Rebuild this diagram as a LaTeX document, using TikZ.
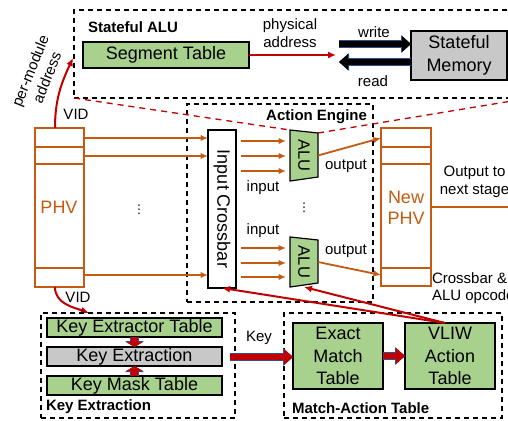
\documentclass[tikz,border=0pt]{standalone}
\usepackage{fontspec}
\setmainfont{Liberation Sans}
\newfontfamily\dejavu{DejaVu Sans}
\usetikzlibrary{arrows.meta,backgrounds,calc}
\definecolor{boxgreen}{HTML}{A9D18E}
\definecolor{boxgray}{HTML}{C8C8C8}
\definecolor{phvorange}{HTML}{C55A11}
\definecolor{arrred}{HTML}{C00000}
\definecolor{arrblue}{HTML}{2F528F}
\begin{document}
\begin{tikzpicture}[x=1pt,y=-1pt,
  every node/.style={inner sep=0pt, outer sep=0pt},
  big/.style={font=\fontsize{18}{22}\selectfont},
  mid/.style={font=\fontsize{15}{18}\selectfont},
  ttl/.style={font=\fontsize{15}{18}\selectfont\bfseries},
  vdotsnode/.style={font=\dejavu\fontsize{12}{12}\selectfont},
  dashbox/.style={draw, dash pattern=on 5pt off 4pt, line width=1.3pt},
  greenbox/.style={draw, fill=boxgreen, line width=1.2pt, big, align=center},
  graybox/.style={draw, fill=boxgray, line width=1.2pt, big, align=center},
  phvbox/.style={draw=phvorange, line width=1.5pt, fill=white},
  phvline/.style={draw=phvorange, line width=1.5pt},
  oarrow/.style={draw=phvorange, line width=1.8pt, -{Latex[length=7.5pt,width=6.5pt]}},
  rarrow/.style={draw=arrred, line width=2pt, -{Latex[length=8pt,width=7pt]}},
  rdash/.style={draw=arrred, line width=1.3pt, dash pattern=on 6pt off 5pt},
  blockarrow/.style={line width=6.5pt, draw=#1, -{Triangle[length=9pt,width=16pt,line width=0pt]},
     preaction={draw=arrblue, line width=7.6pt, -{Triangle[length=10pt,width=17.8pt,line width=0pt]}}},
  smallblock/.style={line width=7pt, draw=arrred, -{Triangle[length=5pt,width=17pt,line width=0pt]},
     preaction={draw=arrblue, line width=8.2pt, -{Triangle[length=6pt,width=19pt,line width=0pt]}}},
  alushape/.style={draw, line width=1.2pt, fill=boxgreen},
]
\useasboundingbox (0,0) rectangle (508,420);
\clip (0,0) rectangle (508,420);

% ---------- Stateful ALU ----------
\node[dashbox, minimum width=456pt, minimum height=88pt] (sabox) at (302,54) {};
\node[ttl, anchor=west] (satitle) at (88,27) {Stateful ALU};
\node[greenbox, minimum width=166pt, minimum height=26pt] (seg) at (166,55) {Segment Table};
\node[graybox, minimum width=96pt, minimum height=49pt, font=\fontsize{18}{23}\selectfont] (smem) at (459,55.5) {Stateful\\Memory};
\node[mid, align=center] (phys) at (290,33) {physical\\address};
\coordinate (paend) at (336,55);
\draw[rarrow] (seg.east) -- (paend);
\coordinate (wstart) at (339,44);
\coordinate (rend) at (339,62);
\draw[blockarrow=black] (wstart) -- (smem.west |- wstart);
\draw[blockarrow=black] (smem.west |- rend) -- (rend);
\node[mid] (wlabel) at (374,32) {write};
\node[mid] (rlabel) at (373,81) {read};

% ---------- Action Engine ----------
\node[dashbox, minimum width=186pt, minimum height=198pt] (aebox) at (280,203) {};
\node[ttl, anchor=east] (aetitle) at (367,117) {Action Engine};
\node[draw, fill=white, line width=1.2pt, minimum width=28pt, minimum height=158pt] (xbar) at (222,209) {};
\node[big, rotate=-90] (xbartext) at (xbar) {Input Crossbar};

\node[minimum width=28pt, minimum height=51pt] (alu1) at (304,155.5) {};
\node[minimum width=28pt, minimum height=50pt] (alu2) at (304,262) {};
\begin{scope}[on background layer]
\draw[alushape] (alu1.north west) -- ($(alu1.north east)+(0,3)$) -- ($(alu1.south east)+(0,-4)$) -- (alu1.south west) -- cycle;
\draw[alushape] (alu2.north west) -- ($(alu2.north east)+(0,3)$) -- ($(alu2.south east)+(0,-4)$) -- (alu2.south west) -- cycle;
\end{scope}
\node[font=\fontsize{16.5}{20}\selectfont, rotate=-90] (alu1t) at (alu1) {ALU};
\node[font=\fontsize{16.5}{20}\selectfont, rotate=-90] (alu2t) at (alu2) {ALU};

\foreach \y in {141,156,171} {
  \draw[oarrow, shorten <=5pt, shorten >=4pt] (xbar.east |- 0,\y) -- (alu1.west |- 0,\y);
}
\foreach \y in {248,263,277} {
  \draw[oarrow, shorten <=5pt, shorten >=4pt] (xbar.east |- 0,\y) -- (alu2.west |- 0,\y);
}
\node[mid] (in1) at (263,188) {input};
\node[mid] (in2) at (263,231) {input};
\node[mid] (out1) at (346,166) {output};
\node[mid] (out2) at (346,251) {output};
\node[vdotsnode] (dots2) at (304,208) {⋮};

% ---------- PHV ----------
\node[phvbox, minimum width=49pt, minimum height=159pt] (phv) at (59.5,207.5) {};
\foreach \y in {147,164,268} {
  \draw[phvline] (phv.west |- 0,\y) -- (phv.east |- 0,\y);
}
\node[big, text=phvorange] (phvt) at (59,207) {PHV};
\foreach \y in {138,156,275} {
  \draw[oarrow] (phv.east |- 0,\y) -- (xbar.west |- 0,\y);
}
\node[vdotsnode] (dots1) at (139,210) {⋮};

% ---------- New PHV ----------
\node[phvbox, minimum width=50pt, minimum height=158pt] (nphv) at (406,207) {};
\foreach \y in {147,164,268} {
  \draw[phvline] (nphv.west |- 0,\y) -- (nphv.east |- 0,\y);
}
\node[text=phvorange, align=center, font=\fontsize{18}{21}\selectfont] (nphvt) at (406,207.5) {New\\PHV};
\draw[oarrow] (alu1.east) -- (nphv.west |- 0,138);
\draw[oarrow] (alu2.east) -- (nphv.west |- 0,275);
\coordinate (nextstage) at (522,207);
\draw[oarrow] (nphv.east) -- (nextstage);
\node[mid, align=center] (nextt) at (474.5,181.5) {Output to\\next stage};
\node[font=\fontsize{15}{17}\selectfont, align=left, anchor=west] (opct) at (432,288.5) {Crossbar \&\\ALU opcode};

% ---------- red dashed links ----------
\draw[rdash] (sabox.south west) -- (alu1.north west);
\draw[rdash] ($(alu1.north east)+(0,3)$) -- (sabox.south east);

% ---------- VID arrows ----------
\coordinate (vidtopstart) at (55,128);
\coordinate (vidtop) at (73,58);
\draw[rarrow] (vidtopstart) to[out=90,in=245] (vidtop);
\node[mid] (vid1) at (76,114) {VID};
\node[mid, align=center, rotate=68] (pma) at (38.5,74) {per-module\\address};
\coordinate (vidbotstart) at (55,287);
\coordinate (vidbot) at (89,313);
\draw[rarrow] (vidbotstart) to[out=-90,in=160] (vidbot);
\node[mid] (vid2) at (78,297) {VID};

% ---------- Key Extraction ----------
\node[dashbox, minimum width=194pt, minimum height=105pt] (kebox) at (138,365.5) {};
\node[ttl, anchor=west] (ketitle) at (46,407) {Key Extraction};
\node[greenbox, minimum width=175pt, minimum height=19pt] (ket) at (134.5,327.5) {Key Extractor Table};
\node[graybox, minimum width=175pt, minimum height=19pt] (kex) at (134.5,356.5) {Key Extraction};
\node[greenbox, minimum width=175pt, minimum height=19pt] (kmt) at (134.5,385.5) {Key Mask Table};
\draw[smallblock] (ket.south) -- (kex.north);
\draw[smallblock] (kmt.north) -- (kex.south);

% ---------- Match-Action Table ----------
\node[dashbox, minimum width=218pt, minimum height=105pt] (matbox) at (393,365.5) {};
\node[ttl, anchor=west] (mattitle) at (292,408) {Match-Action Table};
\node[greenbox, minimum width=90pt, minimum height=66pt, font=\fontsize{18}{22.5}\selectfont] (emt) at (338,356) {Exact\\Match\\Table};
\node[greenbox, minimum width=90pt, minimum height=66pt, font=\fontsize{18}{22.5}\selectfont] (vliw) at (450,356) {VLIW\\Action\\Table};
\coordinate (keystart) at (230,357);
\draw[blockarrow=arrred] (keystart) -- (emt.west |- keystart);
\node[mid] (keyt) at (259,338) {Key};
\draw[blockarrow=arrred] (emt.east) -- (vliw.west);

% ---------- opcode links ----------
\coordinate (op) at (445,323);
\draw[rarrow] (op) -- (xbar.south);
\draw[rarrow] (op) -- (alu2.south);
\end{tikzpicture}
\end{document}
